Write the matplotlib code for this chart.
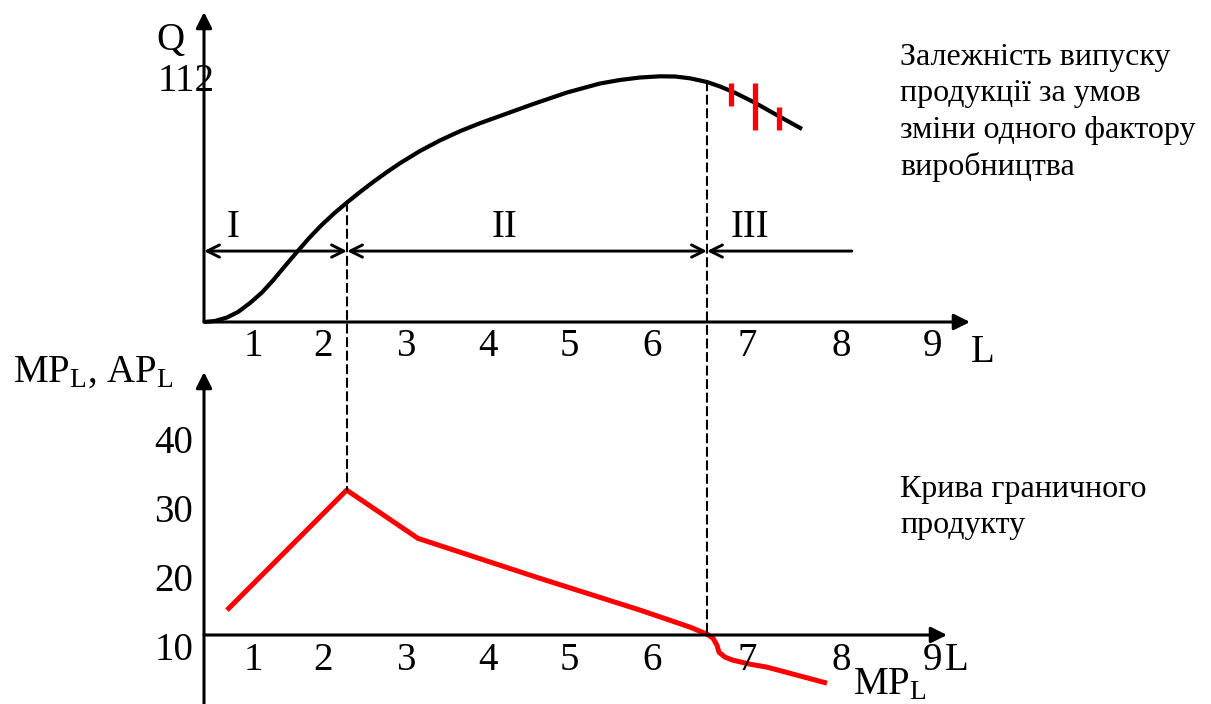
import matplotlib
matplotlib.use("Agg")
import numpy as np
import matplotlib.pyplot as plt
from matplotlib.patches import ConnectionPatch

plt.rcParams["font.family"] = ["Liberation Serif", "DejaVu Serif"]
plt.rcParams["mathtext.fontset"] = "custom"
plt.rcParams["mathtext.rm"] = "Liberation Serif"
plt.rcParams["mathtext.it"] = "Liberation Serif:italic"

# total product Q(L)
tp_L = [0.000, 0.134, 0.280, 0.415, 0.561, 0.707, 0.841, 0.988, 1.134, 1.280,
        1.427, 1.585, 1.744, 1.902, 2.061, 2.232, 2.390, 2.634, 2.878, 3.122,
        3.366, 3.610, 4.012, 4.427, 4.829, 5.073, 5.317, 5.561, 5.744, 5.927,
        6.134, 6.293, 6.476, 6.720, 7.024, 7.293]
tp_Q = [0.0, 0.47, 2.10, 4.67, 8.87, 13.77, 19.37, 26.13, 32.67, 39.10,
        44.98, 50.63, 55.76, 60.62, 65.28, 70.00, 74.10, 79.80, 84.74, 89.03,
        92.77, 96.13, 101.68, 107.09, 111.29, 112.93, 114.09, 114.65, 114.56, 113.72,
        111.99, 109.90, 106.95, 102.29, 95.75, 90.06]
# marginal product MP(L)
mp_L = [0.28, 1.74, 2.61, 4.10, 5.32, 5.93, 6.134, 6.207, 6.256, 6.280,
        6.354, 6.451, 6.659, 6.866, 7.598]
mp_V = [15.8, 33.2, 26.2, 20.4, 15.8, 13.33, 12.32, 11.74, 10.72, 9.71,
        8.99, 8.55, 7.97, 7.54, 5.22]

stage_bounds = [0.0, 1.744, 6.134, 7.90]
stage_names = ["I", "II", "III"]
stage_label_L = [0.35, 3.67, 6.66]
tick_L = [0.60, 1.45, 2.46, 3.46, 4.46, 5.46, 6.63, 7.77, 8.89]
tick_text = ["1", "2", "3", "4", "5", "6", "7", "8", "9"]
mp_ticks = [10, 20, 30, 40]
q_mark = 112
mp_axis = 12.2
strike_L = [6.43, 6.72, 7.01]
strike_lo = [100.8, 89.6, 89.6]
strike_hi = [111.5, 111.5, 100.3]

W, H = 1211, 704
PX_L, PX_Q, PX_MP = 82.0, 2.143, 6.9   # px per unit
fig = plt.figure(figsize=(W / 100, H / 100), dpi=100)
ax_t = fig.add_axes([204 / W, (H - 322) / H, (970 - 204) / W, (322 - 12) / H])
ax_t.set_xlim(0, 766 / PX_L); ax_t.set_ylim(0, 310 / PX_Q)
ax_b = fig.add_axes([204 / W, 0, (947 - 204) / W, (704 - 372) / H])
ax_b.set_xlim(0, 743 / PX_L); ax_b.set_ylim(2.2, 2.2 + 332 / PX_MP)
for a in (ax_t, ax_b):
    a.axis("off")

axis_kw = dict(arrowstyle="-|>", lw=2.2, color="k", mutation_scale=24,
               shrinkA=0, shrinkB=0)
ax_t.annotate("", xy=(0, 1), xytext=(0, 0), xycoords="axes fraction", arrowprops=axis_kw)
ax_t.annotate("", xy=(1, 0), xytext=(0, 0), xycoords="axes fraction", arrowprops=axis_kw)
ax_b.annotate("", xy=(0, 1), xytext=(0, 0), xycoords="axes fraction", arrowprops=axis_kw)
ax_b.annotate("", xy=(1, mp_axis), xytext=(0, mp_axis),
              xycoords=("axes fraction", "data"), arrowprops=axis_kw)

# curves
ax_t.plot(tp_L, tp_Q, color="k", lw=3, solid_capstyle="butt",
          solid_joinstyle="round", clip_on=False)
ax_b.plot(mp_L, mp_V, color="#ff0000", lw=3.6, solid_capstyle="butt",
          solid_joinstyle="round", clip_on=False)
for x, lo, hi in zip(strike_L, strike_lo, strike_hi):
    ax_t.plot([x, x], [lo, hi], color="#ff0000", lw=3.8, solid_capstyle="butt")

# stage arrows
row_q = 33.1
st_kw = dict(lw=2.1, color="k", mutation_scale=22, shrinkA=0, shrinkB=0)
for i in range(2):
    ax_t.annotate("", xy=(stage_bounds[i + 1], row_q), xytext=(stage_bounds[i], row_q),
                  arrowprops=dict(arrowstyle="<->", **st_kw))
ax_t.annotate("", xy=(stage_bounds[3], row_q), xytext=(stage_bounds[2], row_q),
              arrowprops=dict(arrowstyle="<-", **st_kw))
for x, s in zip(stage_label_L, stage_names):
    ax_t.text(x, 44, s, fontsize=28, ha="center", va="center")

# dashed links between panels
for b in stage_bounds[1:3]:
    con = ConnectionPatch(xyA=(b, np.interp(b, tp_L, tp_Q)), coordsA=ax_t.transData,
                          xyB=(b, max(np.interp(b, mp_L, mp_V), mp_axis)),
                          coordsB=ax_b.transData,
                          color="k", lw=1.5, linestyle=(0, (4, 2.5)))
    fig.add_artist(con)

# tick labels
for x, s in zip(tick_L, tick_text):
    ax_t.text(x, -25 / PX_Q, s, fontsize=28, ha="center", va="center", clip_on=False)
    ax_b.text(x, mp_axis - 25 / PX_MP, s, fontsize=28, ha="center", va="center")
ax_t.text(9.50, -30 / PX_Q, "L", fontsize=28, ha="center", va="center", clip_on=False)
ax_b.text(9.18, mp_axis - 25 / PX_MP, "L", fontsize=28, ha="center", va="center",
          clip_on=False)
for v in mp_ticks:
    ax_b.text(-11 / PX_L, v, str(v), fontsize=28, ha="right", va="center")
ax_t.text(-18 / PX_L, q_mark, str(q_mark), fontsize=28, ha="center", va="center")
ax_t.text(-34 / PX_L, 131.5, "Q", fontsize=28, ha="center", va="center", clip_on=False)
ax_b.text(-191 / PX_L, 50.3, r"$\mathrm{MP_L}$, $\mathrm{AP_L}$", fontsize=28,
          ha="left", va="center", clip_on=False)
ax_b.text(mp_L[-1] + 26 / PX_L, mp_V[-1] - 0.3, r"$\mathrm{MP_L}$", fontsize=28,
          ha="left", va="center", clip_on=False)

fig.text(900 / W, 1 - 43 / H,
         "Залежність випуску\nпродукції за умов\nзміни одного фактору\nвиробництва",
         fontsize=23, ha="left", va="top", linespacing=1.33)
fig.text(900 / W, 1 - 475 / H, "Крива граничного\nпродукту",
         fontsize=23, ha="left", va="top", linespacing=1.33)

fig.savefig("out.png", dpi=100)
